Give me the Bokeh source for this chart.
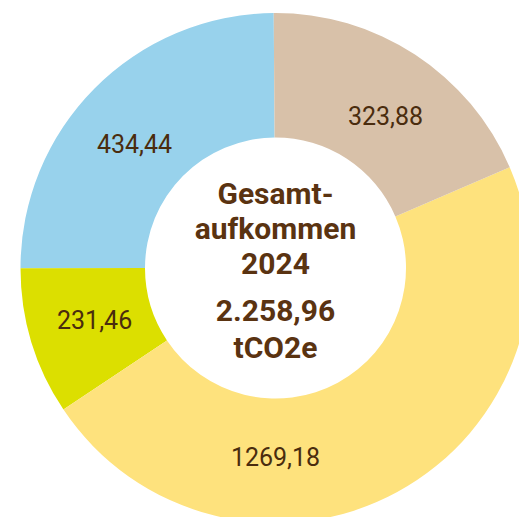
import numpy as np
from bokeh.plotting import figure
from bokeh.models import Range1d, ColumnDataSource
from bokeh.core.properties import value
from bokeh.embed import file_html
from bokeh.resources import INLINE

# Data (counter-clockwise from top)
categories = ["Blau", "Grün", "Gelb", "Beige"]
label_values = ["434,44", "231,46", "1269,18", "323,88"]
# slice shares in percent, as drawn in the reference
shares = [24.9, 9.36, 47.1, 18.64]
colors = ["#98D2EC", "#DCDF00", "#FEE27D", "#D8C1A9"]
center_lines = ["Gesamt-", "aufkommen", "2024", "2.258,96", "tCO2e"]

# layout constants (page pixel frame, y up)
W, H = 519, 517
cx, cy = 275, 517 - 267.5
R_out, R_in = 255, 130.5
start_deg = 90.4
label_angle_deg = [138.6, 195.8, 270.0, 54.2]
label_r = 188
center_line_y = [193, 228, 263, 310, 347]

FONT = "Roboto"

sh = np.array(shares, dtype=float)
ang = sh / sh.sum() * 2 * np.pi
starts = np.deg2rad(start_deg) + np.concatenate([[0], np.cumsum(ang)[:-1]])
ends = starts + ang

src = ColumnDataSource(dict(cat=categories, start=starts, end=ends, color=colors))

p = figure(width=W, height=H, output_backend="svg", toolbar_location=None,
           x_range=Range1d(0, W), y_range=Range1d(0, H),
           min_border=0)
p.axis.visible = False
p.grid.visible = False
p.outline_line_color = None
p.background_fill_color = "white"
p.border_fill_color = "white"

p.annular_wedge(x=cx, y=cy, inner_radius=R_in, outer_radius=R_out,
                start_angle="start", end_angle="end", color="color",
                line_color=None, source=src)

la = np.deg2rad(label_angle_deg)
lsrc = ColumnDataSource(dict(x=cx + label_r * np.cos(la), y=cy + label_r * np.sin(la),
                             t=label_values))
p.text(x="x", y="y", text="t", source=lsrc, text_font=value(FONT),
       text_font_size="25px", text_color="#4A2C0E", text_align="center",
       text_baseline="middle")

csrc = ColumnDataSource(dict(x=[cx] * len(center_lines),
                             y=[517 - v for v in center_line_y], t=center_lines))
p.text(x="x", y="y", text="t", source=csrc, text_font=value(FONT),
       text_font_size="30px", text_font_style="bold", text_color="#5A3311",
       text_align="center", text_baseline="middle")

open("out.html", "w").write(file_html(p, INLINE))
